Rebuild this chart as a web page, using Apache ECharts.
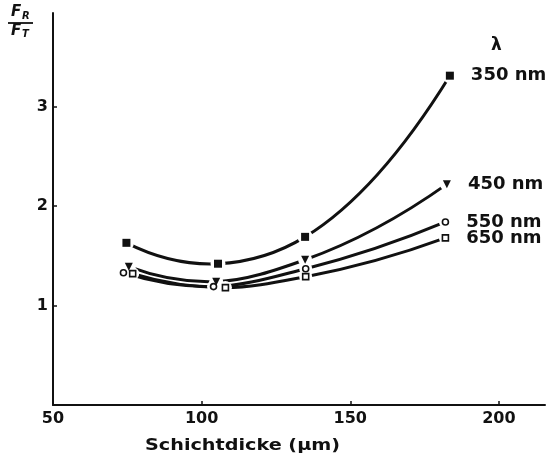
<!DOCTYPE html>
<html>
<head>
<meta charset="utf-8">
<script src="https://cdn.jsdelivr.net/npm/echarts@6/dist/echarts.min.js"></script>
<style>
  html, body { margin: 0; padding: 0; background: #fff; }
  #chart { width: 554px; height: 460px; }
</style>
</head>
<body>
<div id="chart"></div>
<script>
// Tick values shown on the axes
const xTickValues = [50, 100, 150, 200];
const xTickMarks = [100, 150, 200];
const yTickValues = [1, 2, 3];

// Wavelength of each curve
const wavelengths = ['350 nm', '450 nm', '550 nm', '650 nm'];

// Layer thickness (µm) and ratio F_R / F_T for each wavelength
const thick350 = [74.7, 105.5, 134.8, 183.5];
const ratio350 = [1.63, 1.42, 1.69, 3.31];

const thick450 = [75.5, 104.9, 134.8, 182.5];
const ratio450 = [1.39, 1.24, 1.46, 2.22];

const thick550 = [73.7, 104.0, 135.0, 182.0];
const ratio550 = [1.33, 1.19, 1.37, 1.84];

const thick650 = [76.8, 108.0, 135.0, 182.0];
const ratio650 = [1.32, 1.18, 1.29, 1.68];

const FONT = 'DejaVu Sans';
const INK = '#111';

function pairs(xs, ys) { return xs.map((x, i) => [x, ys[i]]); }

// Smooth cubic path through pixel points; tangents from the parabola
// through each point and its neighbours (one-sided at the ends).
function splinePath(pts) {
  const n = pts.length;
  const h = [], s = [], d = [];
  for (let i = 0; i < n - 1; i++) {
    h[i] = pts[i + 1][0] - pts[i][0];
    s[i] = (pts[i + 1][1] - pts[i][1]) / h[i];
  }
  d[0] = ((2 * h[0] + h[1]) * s[0] - h[0] * s[1]) / (h[0] + h[1]);
  for (let i = 1; i < n - 1; i++) {
    d[i] = (h[i] * s[i - 1] + h[i - 1] * s[i]) / (h[i - 1] + h[i]);
  }
  d[n - 1] = ((2 * h[n - 2] + h[n - 3]) * s[n - 2] - h[n - 2] * s[n - 3]) / (h[n - 2] + h[n - 3]);
  let p = 'M' + pts[0][0] + ',' + pts[0][1];
  for (let i = 0; i < n - 1; i++) {
    const k = h[i] / 3;
    p += ' C' + (pts[i][0] + k) + ',' + (pts[i][1] + d[i] * k) + ' ' +
         (pts[i + 1][0] - k) + ',' + (pts[i + 1][1] - d[i + 1] * k) + ' ' +
         pts[i + 1][0] + ',' + pts[i + 1][1];
  }
  return p;
}

function curveSeries(xs, ys) {
  const data = pairs(xs, ys);
  return {
    type: 'custom',
    silent: true,
    z: 2,
    data: data,
    renderItem: function (params, api) {
      if (params.dataIndex !== 0) return null;
      const pts = data.map(v => api.coord(v));
      return {
        type: 'path',
        shape: { pathData: splinePath(pts) },
        style: { fill: 'none', stroke: INK, lineWidth: 3, lineCap: 'round' }
      };
    }
  };
}

function haloSeries(xs, ys, size) {
  return {
    type: 'scatter',
    silent: true,
    z: 3,
    data: pairs(xs, ys),
    symbol: 'circle',
    symbolSize: size,
    itemStyle: { color: '#fff', opacity: 1 }
  };
}

function markerSeries(name, xs, ys, symbol, size, filled, rotate) {
  const data = pairs(xs, ys).map((v, i) =>
    i === xs.length - 1 ? { value: v, label: { show: true } } : { value: v });
  return {
    name: name,
    type: 'scatter',
    silent: true,
    z: 4,
    data: data,
    symbol: symbol,
    symbolSize: size,
    symbolRotate: rotate || 0,
    itemStyle: filled
      ? { color: INK, borderWidth: 0, opacity: 1 }
      : { color: '#fff', borderColor: INK, borderWidth: 1.6, opacity: 1 },
    label: {
      show: false,
      position: 'right',
      distance: 17,
      formatter: '{a}',
      color: INK,
      fontFamily: FONT,
      fontWeight: 'bold',
      fontSize: 18
    }
  };
}

const chart = echarts.init(document.getElementById('chart'), null, { renderer: 'canvas' });

chart.setOption({
  animation: false,
  backgroundColor: '#fff',
  grid: { left: 53, right: 9, top: 13, bottom: 55, containLabel: false },
  xAxis: {
    type: 'value',
    min: 50,
    max: 215.5,
    axisLine: { lineStyle: { color: INK, width: 2 } },
    axisTick: {
      inside: true, length: 4,
      lineStyle: { color: INK, width: 1.5 },
      customValues: xTickMarks
    },
    axisLabel: {
      customValues: xTickValues,
      margin: 6,
      color: INK,
      fontFamily: FONT,
      fontWeight: 'bold',
      fontSize: 16
    },
    splitLine: { show: false }
  },
  yAxis: {
    type: 'value',
    min: 0,
    max: 3.94,
    axisLine: { show: true, lineStyle: { color: INK, width: 2 } },
    axisTick: {
      show: true, inside: true, length: 4,
      lineStyle: { color: INK, width: 1.5 },
      customValues: yTickValues
    },
    axisLabel: {
      customValues: yTickValues,
      margin: 5,
      color: INK,
      fontFamily: FONT,
      fontWeight: 'bold',
      fontSize: 16
    },
    splitLine: { show: false }
  },
  series: [
    curveSeries(thick350, ratio350),
    curveSeries(thick450, ratio450),
    curveSeries(thick550, ratio550),
    curveSeries(thick650, ratio650),
    haloSeries(thick350, ratio350, 15),
    haloSeries(thick450, ratio450, 14),
    haloSeries(thick550, ratio550, 13),
    haloSeries(thick650, ratio650, 13),
    markerSeries(wavelengths[0], thick350, ratio350, 'rect', 8, true),
    markerSeries(wavelengths[1], thick450, ratio450, 'triangle', 8, true, 180),
    markerSeries(wavelengths[2], thick550, ratio550, 'circle', 6, false),
    markerSeries(wavelengths[3], thick650, ratio650, 'rect', 6, false)
  ],
  graphic: [
    // axis title: F_R over F_T
    { type: 'text', left: 11, top: 5,
      style: { text: 'F', fontFamily: FONT, fontStyle: 'italic', fontWeight: 'bold', fontSize: 15, fill: INK } },
    { type: 'text', left: 22, top: 11,
      style: { text: 'R', fontFamily: FONT, fontStyle: 'italic', fontWeight: 'bold', fontSize: 10, fill: INK } },
    { type: 'line', shape: { x1: 8, y1: 23, x2: 33, y2: 23 },
      style: { stroke: INK, lineWidth: 1.8 } },
    { type: 'text', left: 11, top: 24,
      style: { text: 'F', fontFamily: FONT, fontStyle: 'italic', fontWeight: 'bold', fontSize: 15, fill: INK } },
    { type: 'text', left: 22, top: 29,
      style: { text: 'T', fontFamily: FONT, fontStyle: 'italic', fontWeight: 'bold', fontSize: 10, fill: INK } },
    // legend heading
    { type: 'text', left: 491, top: 37,
      style: { text: 'λ', fontFamily: FONT, fontWeight: 'bold', fontSize: 17, fill: INK } },
    // x-axis title
    { type: 'text', x: 145, y: 438, scaleX: 1.2,
      style: { text: 'Schichtdicke (µm)', fontFamily: FONT, fontWeight: 'bold', fontSize: 16, fill: INK } }
  ]
});
</script>
</body>
</html>
